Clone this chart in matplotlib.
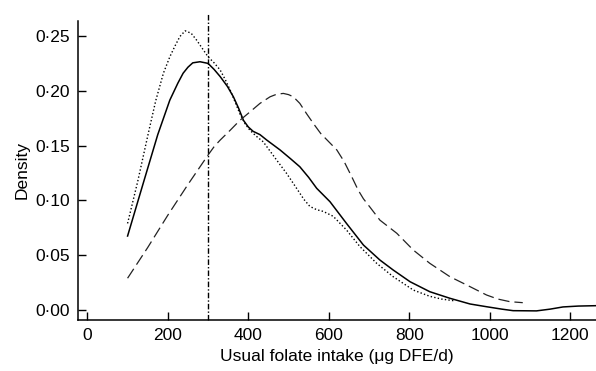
import matplotlib
matplotlib.use('Agg')
import matplotlib.pyplot as plt
from matplotlib.ticker import FuncFormatter

plt.rcParams['font.family'] = ['Liberation Sans', 'DejaVu Sans']

# usual folate intake (ug DFE/d) vs density
solid_x = [100, 140, 175, 205, 225, 238, 250, 262, 280, 300, 315, 330, 348,
           363, 376, 388, 400, 412, 429, 446, 479, 505, 528, 550, 570, 603,
           644, 686, 727, 760, 802, 851, 901, 951, 992, 1030, 1058, 1116,
           1150, 1182, 1220, 1270]
solid_y = [0.0675, 0.117, 0.160, 0.1915, 0.207, 0.216, 0.2215, 0.2255, 0.2265,
           0.225, 0.2195, 0.213, 0.204, 0.1945, 0.184, 0.173, 0.167, 0.163,
           0.160, 0.155, 0.146, 0.138, 0.1307, 0.121, 0.111, 0.0988, 0.079,
           0.0593, 0.0456, 0.0365, 0.0258, 0.0167, 0.0107, 0.0055, 0.0030,
           0.0008, -0.0006, -0.0008, 0.0008, 0.0028, 0.0036, 0.0040]

dotted_x = [100, 125, 152, 170, 189, 205, 218, 230, 243, 258, 272, 286, 300,
            315, 330, 343, 355, 367, 379, 392, 404, 420, 437, 470, 495, 520,
            538, 553, 570, 586, 611, 644, 677, 719, 760, 810, 851, 880, 910]
dotted_y = [0.079, 0.117, 0.162, 0.191, 0.216, 0.231, 0.241, 0.2495, 0.2547,
            0.2525, 0.246, 0.2385, 0.231, 0.2255, 0.219, 0.210, 0.2006, 0.190,
            0.179, 0.170, 0.164, 0.1585, 0.1535, 0.137, 0.1247, 0.111, 0.101,
            0.0945, 0.0915, 0.0900, 0.0855, 0.073, 0.058, 0.0426, 0.0304,
            0.0182, 0.0125, 0.0100, 0.0085]

dashed_x = [100, 150, 200, 250, 300, 315, 330, 355, 379, 405, 429, 454, 470,
            487, 500, 512, 528, 545, 562, 580, 600, 620, 638, 657, 673, 686,
            702, 727, 769, 810, 851, 901, 951, 992, 1020, 1050, 1082]
dashed_y = [0.029, 0.057, 0.0865, 0.1145, 0.1414, 0.149, 0.155, 0.164, 0.173,
            0.181, 0.1885, 0.1945, 0.1968, 0.1976, 0.1965, 0.1945, 0.1885,
            0.179, 0.170, 0.161, 0.1535, 0.146, 0.1355, 0.1216, 0.1094,
            0.1015, 0.094, 0.082, 0.070, 0.0547, 0.0426, 0.0304, 0.0213,
            0.0137, 0.0100, 0.0076, 0.0067]

ref_intake = 300

x_ticks = [0, 200, 400, 600, 800, 1000, 1200]
y_ticks = [0.0, 0.05, 0.10, 0.15, 0.20, 0.25]


def main():
    fig = plt.figure(figsize=(5.96, 3.71), dpi=100)
    ax = fig.add_axes([0.131, 0.1375, 0.869, 0.806])

    ax.plot(solid_x, solid_y, color='black', lw=1.1, ls='-')
    ax.plot(dotted_x, dotted_y, color='black', lw=1.0, ls=(0, (1, 1.6)))
    ax.plot(dashed_x, dashed_y, color='#222222', lw=0.9, ls=(0, (9, 4)))
    ax.axvline(ref_intake, ymin=0, ymax=1.025, clip_on=False, color='black',
               lw=1.0, ls=(0, (4, 1.5, 1, 1.5)))

    ax.set_xlim(-23, 1264)
    ax.set_ylim(-0.0091, 0.2637)
    ax.set_xticks(x_ticks)
    ax.set_yticks(y_ticks)
    ax.yaxis.set_major_formatter(FuncFormatter(lambda v, p: '{:.2f}'.format(v).replace('.', '\u00b7')))

    for s in ['top', 'right']:
        ax.spines[s].set_visible(False)
    for s in ['left', 'bottom']:
        ax.spines[s].set_linewidth(1.1)
    ax.tick_params(direction='in', length=6, width=1.0, labelsize=12.5, pad=6)

    ax.set_xlabel('Usual folate intake (\u03bcg DFE/d)', fontsize=12.5, labelpad=4)
    ax.set_ylabel('Density', fontsize=12.5, labelpad=4)

    fig.savefig('out.png', dpi=100)


if __name__ == '__main__':
    main()
